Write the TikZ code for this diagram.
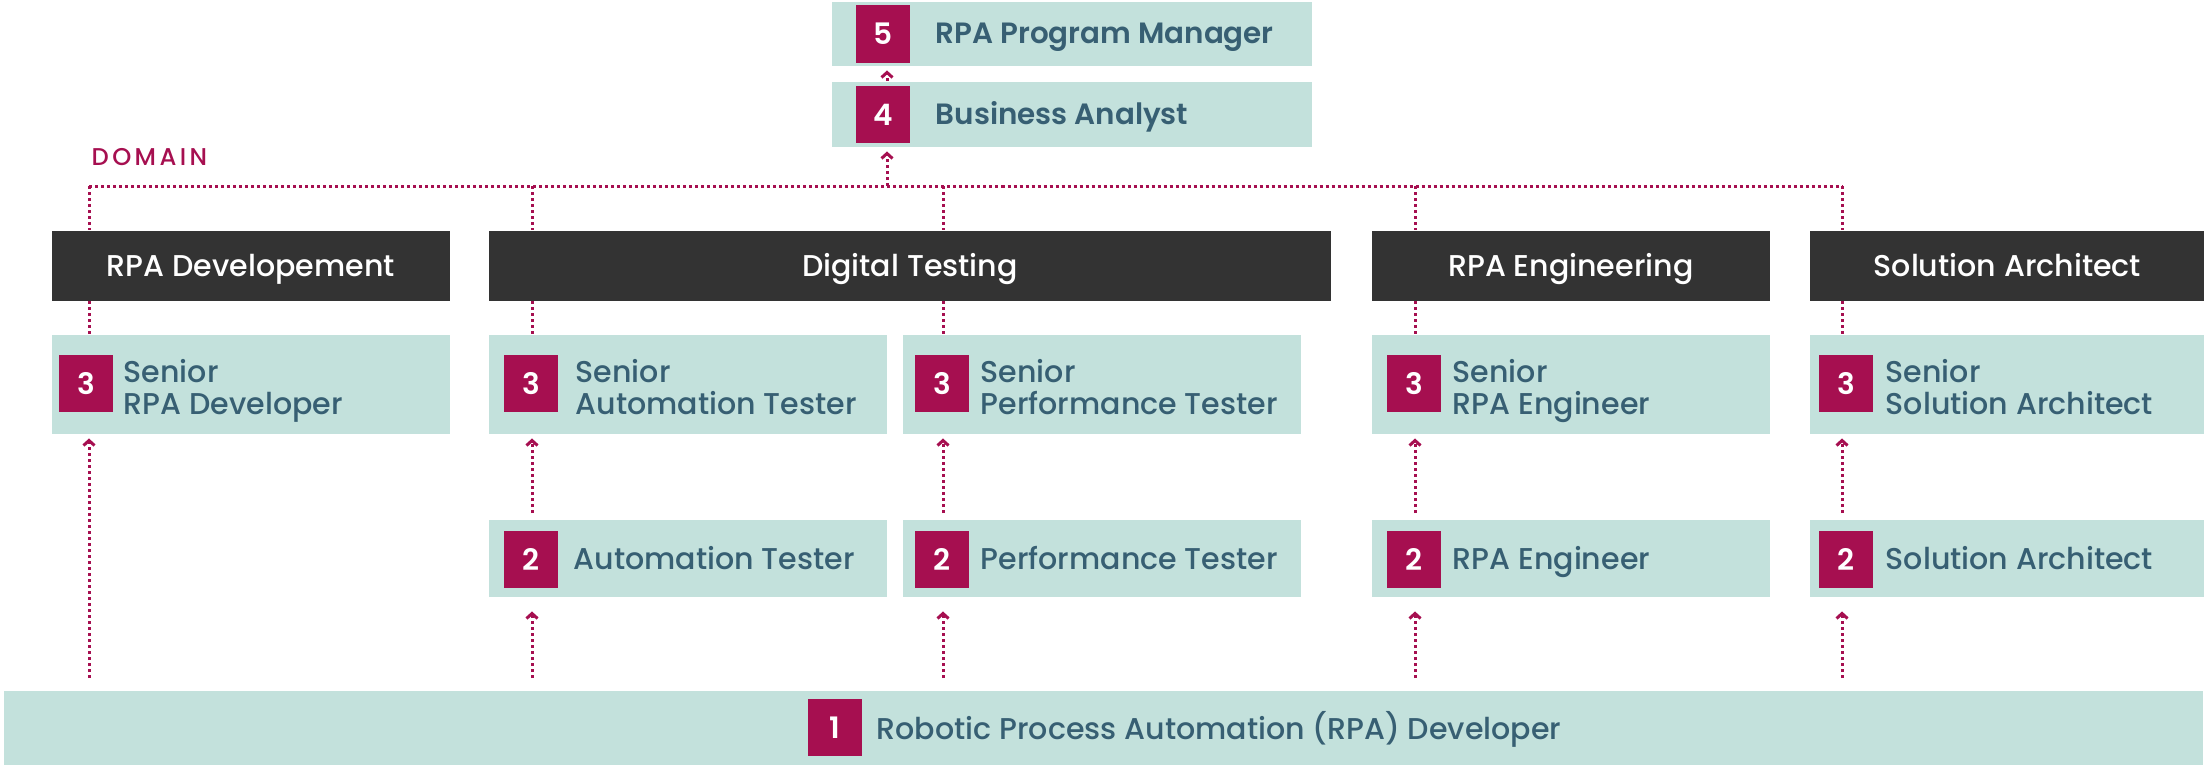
\documentclass[tikz,border=0pt]{standalone}
\usepackage{fontspec}
\setmainfont{Poppins}
\newfontfamily\medfont{Poppins Medium}
\newfontfamily\semifont{Poppins SemiBold}
\newfontfamily\capsfont{Poppins Medium}[LetterSpace=14]
\usepackage{tikz}
\usetikzlibrary{arrows.meta}
\definecolor{tealbg}{HTML}{C3E1DC}
\definecolor{tealtext}{HTML}{375F73}
\definecolor{berry}{HTML}{A60F50}
\definecolor{charcoal}{HTML}{333333}

\begin{document}
\begin{tikzpicture}[x=0.01cm,y=-0.01cm,%career ladder
  tealbox/.style={fill=tealbg,inner sep=0pt,anchor=north west},
  headbox/.style={fill=charcoal,inner sep=0pt,anchor=north west,text=white,
    font=\medfont\fontsize{8.55}{9.1}\selectfont,text height=0.21cm,text depth=0pt},
  badge/.style={fill=berry,text=white,minimum width=0.54cm,minimum height=0.57cm,
    inner sep=0pt,font=\semifont\fontsize{8.4}{9.1}\selectfont},
  role/.style={anchor=west,text=tealtext,inner sep=0pt,align=left,
    font=\medfont\fontsize{8.55}{9.1}\selectfont,text height=0.21cm,text depth=0pt},
  tworole/.style={role,text height=0.53cm},
  boldrole/.style={role,font=\semifont\fontsize{8.35}{9.1}\selectfont},
  dotline/.style={draw=berry,line width=0.03cm,dash pattern=on 0.03cm off 0.03cm},
  rise/.style={dotline,-{Straight Barb[length=0.05cm,width=0.11cm]},shorten >=0.04cm}]
\useasboundingbox (0,0) rectangle (2204,769);

% top of the ladder
\node[tealbox,minimum width=4.8cm,minimum height=0.64cm] (pm) at (831,1) {};
\node[badge] (b5) at (883,34) {5};
\node[boldrole] at (935,33) {RPA Program Manager};
\node[tealbox,minimum width=4.8cm,minimum height=0.65cm] (ba) at (831,81) {};
\node[badge] (b4) at (883,114.5) {4};
\node[boldrole] at (935,113.5) {Business Analyst};

\node[anchor=base west,inner sep=0pt,text=berry,font=\capsfont\fontsize{6.9}{8}\selectfont] (dom) at (91,165) {DOMAIN};

% domains
\node[headbox,minimum width=3.98cm,minimum height=0.7cm] (hdev) at (51,230) {RPA Developement};
\node[headbox,minimum width=8.42cm,minimum height=0.7cm] (hdt) at (488,230) {Digital Testing};
\node[headbox,minimum width=3.98cm,minimum height=0.7cm] (heng) at (1371,230) {RPA Engineering};
\node[headbox,minimum width=3.95cm,minimum height=0.7cm] (hsa) at (1809,230) {Solution Architect};

% level 3
\node[tealbox,minimum width=3.98cm,minimum height=0.99cm] (r3dev) at (51,334) {};
\node[badge] at (86,383.5) {3};
\node[tworole] at (123,388) {Senior\\RPA Developer};
\node[tealbox,minimum width=3.98cm,minimum height=0.99cm] (r3at) at (488,334) {};
\node[badge] at (531,383.5) {3};
\node[tworole] at (575,388) {Senior\\Automation Tester};
\node[tealbox,minimum width=3.98cm,minimum height=0.99cm] (r3pt) at (902,334) {};
\node[badge] at (942,383.5) {3};
\node[tworole] at (980,388) {Senior\\Performance Tester};
\node[tealbox,minimum width=3.98cm,minimum height=0.99cm] (r3eng) at (1371,334) {};
\node[badge] at (1414,383.5) {3};
\node[tworole] at (1452,388) {Senior\\RPA Engineer};
\node[tealbox,minimum width=3.95cm,minimum height=0.99cm] (r3sa) at (1809,334) {};
\node[badge] at (1846,383.5) {3};
\node[tworole] at (1885,388) {Senior\\Solution Architect};

% level 2
\node[tealbox,minimum width=3.98cm,minimum height=0.77cm] (r2at) at (488,519) {};
\node[badge] at (531,559.5) {2};
\node[role] at (573,559) {Automation Tester};
\node[tealbox,minimum width=3.98cm,minimum height=0.77cm] (r2pt) at (902,519) {};
\node[badge] at (942,559.5) {2};
\node[role] at (980,559) {Performance Tester};
\node[tealbox,minimum width=3.98cm,minimum height=0.77cm] (r2eng) at (1371,519) {};
\node[badge] at (1414,559.5) {2};
\node[role] at (1452,559) {RPA Engineer};
\node[tealbox,minimum width=3.95cm,minimum height=0.77cm] (r2sa) at (1809,519) {};
\node[badge] at (1846,559.5) {2};
\node[role] at (1885,559) {Solution Architect};

% level 1
\node[tealbox,minimum width=21.98cm,minimum height=0.74cm] (base) at (3,690) {};
\node[badge] (b1) at (835,727.5) {1};
\node[role] at (876,729) {Robotic Process Automation (RPA) Developer};

% bus
\coordinate (c1) at (89,186);
\coordinate (c2) at (532,186);
\coordinate (c3) at (943,186);
\coordinate (c4) at (1415,186);
\coordinate (c5) at (1842,186);
\coordinate (cba) at (887,186);
\draw[dotline] (c1) -- (c5);
\draw[rise] (cba) -- (ba.south -| cba);
\draw[rise] (ba.north -| cba) -- (pm.south -| cba);

\draw[dotline] (c1) -- (hdev.north -| c1);
\draw[dotline] (c2) -- (hdt.north -| c2);
\draw[dotline] (c3) -- (hdt.north -| c3);
\draw[dotline] (c4) -- (heng.north -| c4);
\draw[dotline] (c5) -- (hsa.north -| c5);
\draw[dotline] (hdev.south -| c1) -- (r3dev.north -| c1);
\draw[dotline] (hdt.south -| c2) -- (r3at.north -| c2);
\draw[dotline] (hdt.south -| c3) -- (r3pt.north -| c3);
\draw[dotline] (heng.south -| c4) -- (r3eng.north -| c4);
\draw[dotline] (hsa.south -| c5) -- (r3sa.north -| c5);

% steps up
\draw[rise,shorten <=0.06cm] (r2at.north -| c2) -- (r3at.south -| c2);
\draw[rise,shorten <=0.06cm] (r2pt.north -| c3) -- (r3pt.south -| c3);
\draw[rise,shorten <=0.06cm] (r2eng.north -| c4) -- (r3eng.south -| c4);
\draw[rise,shorten <=0.06cm] (r2sa.north -| c5) -- (r3sa.south -| c5);
\draw[rise,shorten <=0.12cm] (base.north -| c1) -- (r3dev.south -| c1);
\draw[rise,shorten <=0.12cm,shorten >=0.14cm] (base.north -| c2) -- (r2at.south -| c2);
\draw[rise,shorten <=0.12cm,shorten >=0.14cm] (base.north -| c3) -- (r2pt.south -| c3);
\draw[rise,shorten <=0.12cm,shorten >=0.14cm] (base.north -| c4) -- (r2eng.south -| c4);
\draw[rise,shorten <=0.12cm,shorten >=0.14cm] (base.north -| c5) -- (r2sa.south -| c5);
\end{tikzpicture}
\end{document}
